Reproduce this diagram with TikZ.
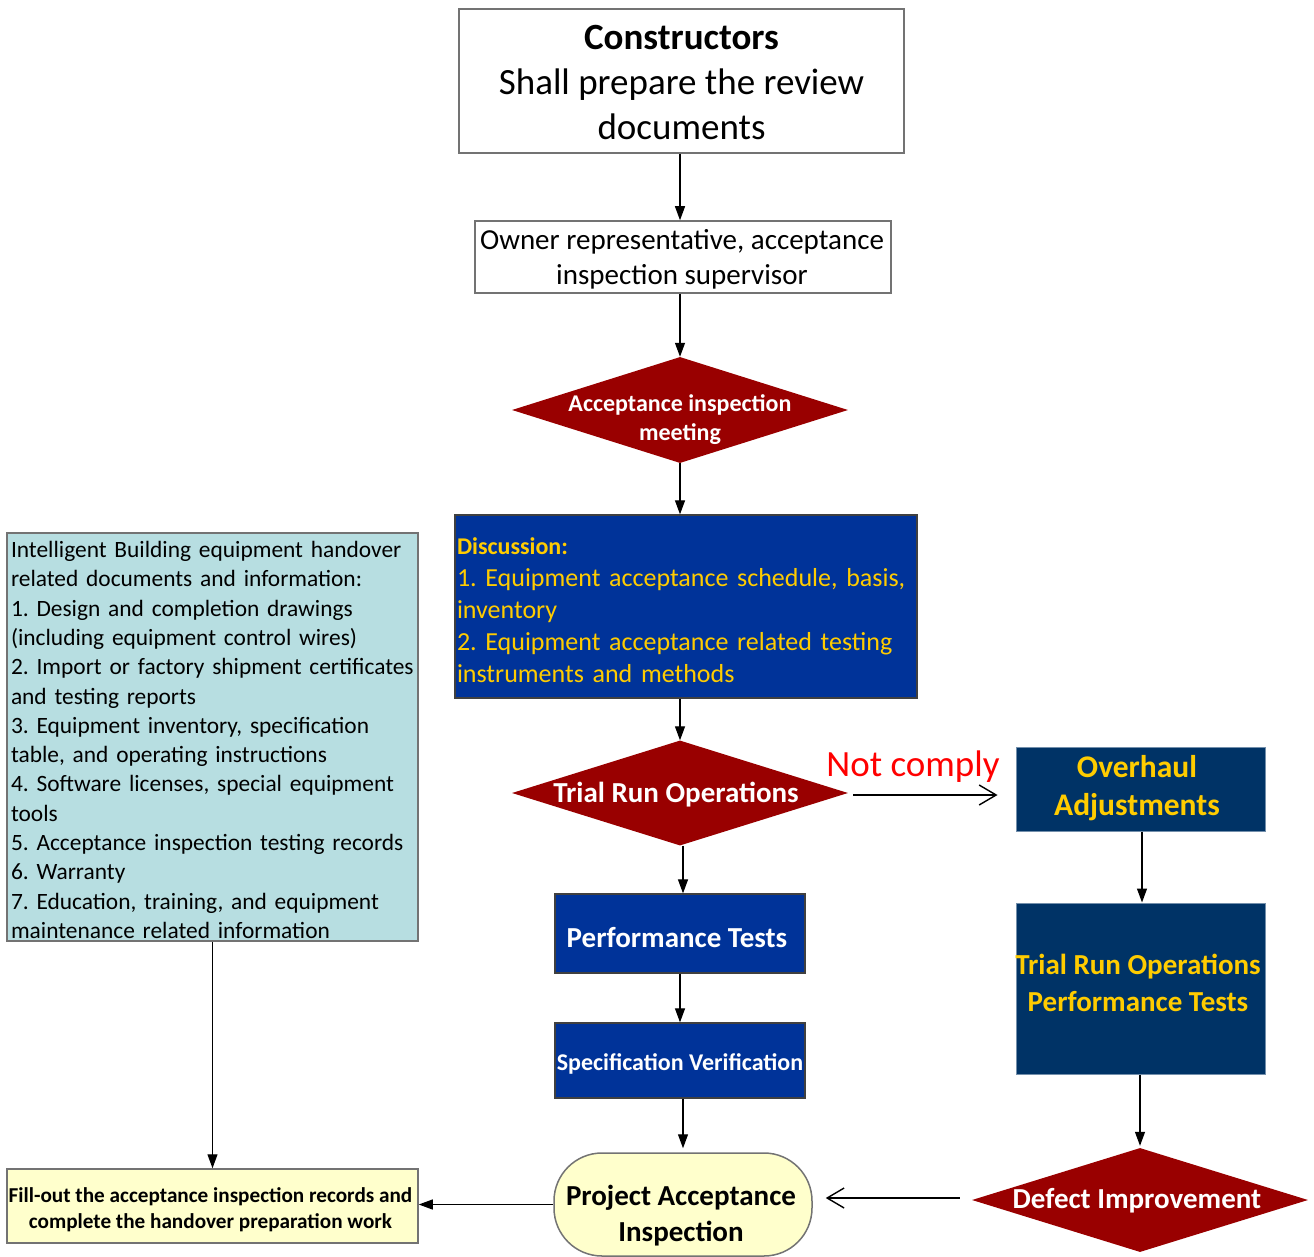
\documentclass[tikz,border=0pt]{standalone}
\usepackage{fontspec}
\setmainfont{Carlito}
\usetikzlibrary{shapes.geometric,arrows.meta,calc}

\definecolor{dred}{RGB}{153,0,0}
\definecolor{royal}{RGB}{0,51,153}
\definecolor{navyb}{RGB}{0,51,102}
\definecolor{gold}{RGB}{255,204,0}
\definecolor{aqua}{RGB}{183,222,225}
\definecolor{cream}{RGB}{255,255,204}
\definecolor{edge}{RGB}{115,115,115}

\newcommand{\fs}[2]{\fontsize{#1}{#2}\selectfont}
\frenchspacing

\begin{document}
\begin{tikzpicture}[x=1pt,y=-1pt,
  box/.style={rectangle, draw=edge, line width=1.5pt, inner sep=0pt},
  bluebox/.style={rectangle, draw=black!75, line width=1.3pt, fill=royal, inner sep=0pt},
  navybox/.style={rectangle, draw=navyb!55, line width=1pt, fill=navyb, inner sep=0pt},
  decision/.style={diamond, fill=dred, inner sep=0pt},
  txt/.style={align=center, inner sep=0pt},
  wtxt/.style={txt, text=white},
  gtxt/.style={txt, text=gold},
  flow/.style={-{Triangle[width=10pt,length=14pt]}, line width=1.2pt},
  openflow/.style={-{Straight Barb[width=20pt,length=17pt]}, line width=1.4pt}
]
\useasboundingbox (0,0) rectangle (1314,1257);

% main column
\node[box, minimum width=445pt, minimum height=144pt] (cons) at (681.5,81) {};
\node[txt, font=\fs{37}{45}] (const) at (681.5,83)
  {\textbf{Constructors}\\Shall prepare the review\\documents};
\node[box, minimum width=416pt, minimum height=72pt] (owner) at (683,257) {};
\node[txt, font=\fs{29}{35}] (ownert) at (682,259.5)
  {Owner representative, acceptance\\inspection supervisor};
\node[decision, minimum width=336pt, minimum height=106pt] (meet) at (680,410) {};
\node[wtxt, font=\bfseries\fs{24}{29}] (meett) at (680,420) {Acceptance inspection\\meeting};
\node[bluebox, minimum width=462pt, minimum height=183pt] (disc) at (686,606.5) {};
\node[gtxt, text width=458pt, align=left, font=\fs{26}{32}] (disct) at (686,610)
  {{\bfseries\fs{24}{31}Discussion:}\\1. Equipment acceptance schedule, basis,\\inventory\\2. Equipment acceptance related testing\\instruments and methods};
\node[decision, minimum width=336pt, minimum height=105pt] (trial) at (680,793) {};
\node[wtxt, font=\bfseries\fs{29}{35}] (trialt) at (676,795) {Trial Run Operations};
\node[bluebox, minimum width=250pt, minimum height=79pt] (perf) at (680,933.5) {};
\node[wtxt, font=\bfseries\fs{29}{35}] (perft) at (677,937.5) {Performance Tests};
\node[bluebox, minimum width=250pt, minimum height=75pt] (spec) at (680,1060.5) {};
\node[wtxt, font=\bfseries\fs{24}{29}] (spect) at (680,1063.5) {Specification Verification};
\node[box, fill=cream, rounded corners=48pt, minimum width=258pt, minimum height=103pt] (proj) at (683,1204.5) {};
\node[txt, font=\bfseries\fs{29}{36}] (projt) at (681,1215.5) {Project Acceptance\\Inspection};

% document list and handover
\node[box, fill=aqua, minimum width=411pt, minimum height=408pt] (docs) at (212.5,737) {};
\node[txt, text width=440pt, align=left, font=\fs{23.4}{29.3}] (docst) at (231,740)
  {Intelligent Building equipment handover\\related documents and information:\\1. Design and completion drawings\\(including equipment control wires)\\2. Import or factory shipment certificates\\and testing reports\\3. Equipment inventory, specification\\table, and operating instructions\\4. Software licenses, special equipment\\tools\\5. Acceptance inspection testing records\\6. Warranty\\7. Education, training, and equipment\\maintenance related information};
\node[box, fill=cream, minimum width=411pt, minimum height=74pt] (fill) at (212.5,1206) {};
\node[txt, font=\bfseries\fs{21.2}{26}] (fillt) at (210.5,1210)
  {Fill-out the acceptance inspection records and\\complete the handover preparation work};

% rework branch
\node[navybox, minimum width=249pt, minimum height=84pt] (ovh) at (1140.5,789) {};
\node[gtxt, font=\bfseries\fs{31.5}{38}] (ovht) at (1137,788) {Overhaul\\Adjustments};
\node[navybox, minimum width=249pt, minimum height=171pt] (retest) at (1140.5,988.5) {};
\node[gtxt, font=\bfseries\fs{29}{37}] (retestt) at (1138,983)
  {Trial Run Operations\\Performance Tests};
\node[decision, minimum width=336pt, minimum height=104pt] (defect) at (1140,1200) {};
\node[wtxt, font=\bfseries\fs{29}{35}] (defectt) at (1137,1201) {Defect Improvement};
\node[text=red, inner sep=0pt, font=\fs{37}{45}] (nc) at (913,767) {Not comply};

% connectors
\draw[flow] (cons.south -| meet) -- (owner.north -| meet);
\draw[flow] (owner.south -| meet) -- (meet.north);
\draw[flow] (meet.south) -- (disc.north -| meet);
\draw[flow] (disc.south -| meet) -- (trial.north);
\draw[flow] ($(trial.south)+(3,0)$) -- ($(perf.north)+(3,0)$);
\draw[flow] (perf.south) -- (spec.north);
\draw[flow, shorten >=4pt] ($(spec.south)+(3,0)$) -- (proj.north);
\draw[flow] (proj.west) -- (proj.west -| fill.east);
\draw[flow] (docs.south) -- (fill.north);
\draw[openflow] ($(trial.east)+(5,2)$) -- ($(ovh.west)+(-18,6)$);
\draw[flow] ($(ovh.south)+(1.5,0)$) -- ($(retest.north)+(1.5,0)$);
\draw[flow] (retest.south -| defect) -- ($(defect.north)+(0,-2)$);
\draw[openflow] ($(defect.west)+(-12,-2)$) -- ($(proj.east)+(13,-6.5)$);
\end{tikzpicture}
\end{document}
